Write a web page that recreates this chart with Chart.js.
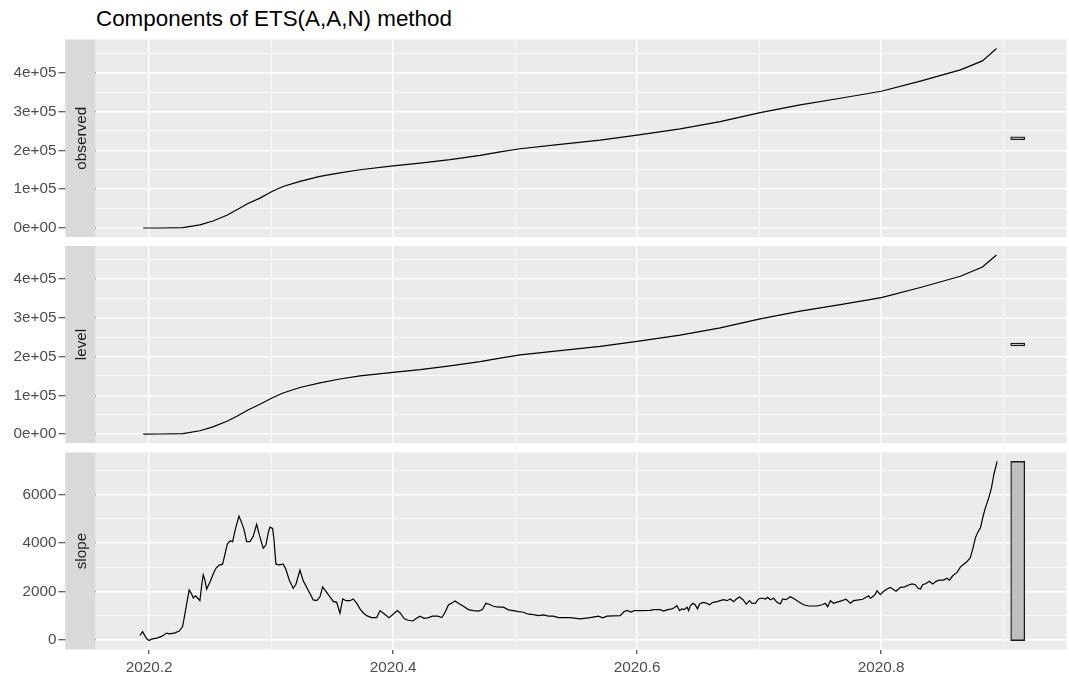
<!DOCTYPE html>
<html lang="en">
<head>
<meta charset="UTF-8">
<title>Components of ETS(A,A,N) method</title>
<script src="https://cdn.jsdelivr.net/npm/chart.js"></script>
<style>
  body { margin: 0; background: #fff; font-family: 'Liberation Sans', Arial, sans-serif; }
  #wrap { position: relative; width: 1069px; height: 679px; overflow: hidden; }
  #title { position: absolute; left: 96px; top: 8px; font-size: 22.4px; line-height: 1; color: #000; white-space: nowrap; }
  canvas { position: absolute; left: 0; }
</style>
</head>
<body>
<div id="wrap">
  <div id="title">Components of ETS(A,A,N) method</div>
  <canvas id="obsChart" width="1069" height="240" style="top:0px"></canvas>
  <canvas id="levelChart" width="1069" height="206" style="top:240px"></canvas>
  <canvas id="slopeChart" width="1069" height="233" style="top:446px"></canvas>
</div>
<script>
// series (time in decimal years)
const obsTime = [2020.1951, 2020.2088, 2020.2276, 2020.2416, 2020.2523, 2020.2637, 2020.2719, 2020.2810, 2020.2908,
  2020.3007, 2020.3097, 2020.3236, 2020.3400, 2020.3564, 2020.3728, 2020.3999, 2020.4221, 2020.4467, 2020.4713,
  2020.4877, 2020.5041, 2020.5369, 2020.5697, 2020.6000, 2020.6353, 2020.6681, 2020.7009, 2020.7337, 2020.7666,
  2020.8002, 2020.8322, 2020.8650, 2020.8831, 2020.8946];
const obsValue = [0, 100, 800, 8000, 18000, 33000, 47000, 63000, 77000,
  94000, 107000, 120000, 133000, 142000, 150000, 160000, 167000, 176000, 187000,
  196000, 204000, 215000, 226000, 239000, 255000, 274000, 297000, 317000, 334000,
  352000, 378000, 407000, 430000, 462000];

const levelTime = [2020.1951, 2020.2088, 2020.2276, 2020.2416, 2020.2523, 2020.2637, 2020.2719, 2020.2810, 2020.2908,
  2020.3007, 2020.3097, 2020.3236, 2020.3400, 2020.3564, 2020.3728, 2020.3999, 2020.4221, 2020.4467, 2020.4713,
  2020.4877, 2020.5041, 2020.5369, 2020.5697, 2020.6000, 2020.6353, 2020.6681, 2020.7009, 2020.7337, 2020.7666,
  2020.8002, 2020.8322, 2020.8650, 2020.8831, 2020.8946];
const levelValue = [0, 100, 900, 8500, 18500, 33000, 46000, 62000, 77000,
  93000, 106000, 120000, 132000, 142000, 150000, 159000, 166000, 176000, 187000,
  196000, 204000, 215000, 226000, 239000, 255000, 274000, 297000, 317000, 334000,
  352000, 378000, 407000, 431000, 462000];

const slopeTime = [2020.1924, 2020.1946, 2020.1979, 2020.2000, 2020.2020, 2020.2061, 2020.2102, 2020.2143, 2020.2170,
  2020.2211, 2020.2246, 2020.2274, 2020.2293, 2020.2312, 2020.2328, 2020.2348, 2020.2361, 2020.2381, 2020.2397,
  2020.2416, 2020.2430, 2020.2443, 2020.2457, 2020.2471, 2020.2498, 2020.2525, 2020.2547, 2020.2574, 2020.2602,
  2020.2621, 2020.2640, 2020.2662, 2020.2684, 2020.2703, 2020.2717, 2020.2736, 2020.2758, 2020.2777, 2020.2799,
  2020.2826, 2020.2853, 2020.2881, 2020.2902, 2020.2935, 2020.2957, 2020.2976, 2020.2990, 2020.3012, 2020.3023,
  2020.3039, 2020.3066, 2020.3099, 2020.3121, 2020.3148, 2020.3181, 2020.3203, 2020.3236, 2020.3263, 2020.3291,
  2020.3318, 2020.3345, 2020.3373, 2020.3400, 2020.3422, 2020.3455, 2020.3482, 2020.3509, 2020.3537, 2020.3564,
  2020.3587, 2020.3614, 2020.3646, 2020.3673, 2020.3701, 2020.3728, 2020.3756, 2020.3783, 2020.3824, 2020.3865,
  2020.3893, 2020.3928, 2020.3966, 2020.4002, 2020.4034, 2020.4057, 2020.4092, 2020.4125, 2020.4161, 2020.4185,
  2020.4221, 2020.4253, 2020.4284, 2020.4322, 2020.4366, 2020.4399, 2020.4426, 2020.4453, 2020.4481, 2020.4508,
  2020.4535, 2020.4576, 2020.4617, 2020.4658, 2020.4699, 2020.4732, 2020.4760, 2020.4787, 2020.4822, 2020.4863,
  2020.4904, 2020.4945, 2020.4986, 2020.5027, 2020.5068, 2020.5109, 2020.5150, 2020.5191, 2020.5232, 2020.5273,
  2020.5314, 2020.5355, 2020.5410, 2020.5451, 2020.5533, 2020.5615, 2020.5683, 2020.5719, 2020.5752, 2020.5861,
  2020.5894, 2020.5916, 2020.5949, 2020.5976, 2020.6107, 2020.6134, 2020.6189, 2020.6217, 2020.6244, 2020.6285,
  2020.6304, 2020.6326, 2020.6348, 2020.6367, 2020.6386, 2020.6409, 2020.6422, 2020.6436, 2020.6458, 2020.6477,
  2020.6495, 2020.6512, 2020.6540, 2020.6567, 2020.6594, 2020.6622, 2020.6655, 2020.6682, 2020.6709, 2020.6737,
  2020.6764, 2020.6791, 2020.6813, 2020.6840, 2020.6868, 2020.6895, 2020.6922, 2020.6942, 2020.6969, 2020.6996,
  2020.7024, 2020.7051, 2020.7070, 2020.7092, 2020.7119, 2020.7147, 2020.7174, 2020.7193, 2020.7221, 2020.7256,
  2020.7291, 2020.7324, 2020.7365, 2020.7406, 2020.7475, 2020.7516, 2020.7543, 2020.7562, 2020.7584, 2020.7611,
  2020.7639, 2020.7680, 2020.7713, 2020.7748, 2020.7775, 2020.7816, 2020.7849, 2020.7877, 2020.7898, 2020.7912,
  2020.7931, 2020.7953, 2020.7967, 2020.7994, 2020.8021, 2020.8049, 2020.8076, 2020.8095, 2020.8123, 2020.8158,
  2020.8194, 2020.8221, 2020.8254, 2020.8281, 2020.8303, 2020.8322, 2020.8341, 2020.8369, 2020.8396, 2020.8423,
  2020.8451, 2020.8478, 2020.8513, 2020.8541, 2020.8560, 2020.8587, 2020.8623, 2020.8651, 2020.8678, 2020.8705,
  2020.8732, 2020.8751, 2020.8774, 2020.8796, 2020.8815, 2020.8833, 2020.8855, 2020.8883, 2020.8905, 2020.8924,
  2020.8951];
const slopeValue = [180, 340, 40, -30, 30, 70, 140, 280, 250,
  290, 360, 550, 1070, 1620, 2060, 1890, 1730, 1820, 1730,
  1620, 2240, 2690, 2470, 2100, 2380, 2720, 2960, 3090, 3130,
  3540, 3950, 4090, 4060, 4500, 4780, 5120, 4850, 4570, 4060,
  4060, 4290, 4780, 4360, 3790, 3920, 4430, 4660, 4610, 4160,
  3130, 3100, 3130, 2920, 2470, 2130, 2300, 2880, 2440, 2170,
  1920, 1650, 1620, 1780, 2190, 1960, 1780, 1590, 1550, 1100,
  1690, 1620, 1620, 1690, 1520, 1280, 1110, 1000, 920, 920,
  1210, 1070, 910, 1070, 1210, 1110, 870, 810, 780, 870,
  980, 890, 910, 980, 980, 920, 1140, 1440, 1520, 1610,
  1510, 1390, 1250, 1210, 1190, 1250, 1510, 1470, 1390, 1350,
  1350, 1240, 1210, 1170, 1140, 1060, 1040, 1000, 1030, 980,
  980, 920, 920, 920, 870, 920, 980, 910, 980, 1000,
  1170, 1220, 1150, 1210, 1220, 1250, 1250, 1190, 1240, 1280,
  1330, 1410, 1210, 1280, 1250, 1350, 1210, 1410, 1510, 1440,
  1280, 1480, 1550, 1520, 1450, 1550, 1580, 1620, 1660, 1620,
  1690, 1580, 1690, 1770, 1660, 1480, 1620, 1510, 1510, 1690,
  1730, 1690, 1760, 1660, 1720, 1550, 1480, 1690, 1660, 1780,
  1690, 1580, 1450, 1400, 1400, 1450, 1510, 1370, 1620, 1510,
  1560, 1620, 1680, 1510, 1620, 1650, 1680, 1760, 1820, 1720,
  1780, 1890, 2030, 1870, 2010, 2100, 2170, 2100, 2010, 2170,
  2190, 2260, 2310, 2280, 2130, 2100, 2280, 2330, 2420, 2310,
  2420, 2470, 2470, 2550, 2470, 2650, 2790, 3020, 3130, 3240,
  3410, 3750, 4230, 4480, 4640, 5050, 5460, 5880, 6290, 6830,
  7380];

// axis ticks and labels
const xMajor = [2020.2, 2020.4, 2020.6, 2020.8];
const xMinor = [2020.3, 2020.5, 2020.7, 2020.9];
const xLabels = ['2020.2', '2020.4', '2020.6', '2020.8'];

const bigMajor = [0, 100000, 200000, 300000, 400000];
const bigMinor = [50000, 150000, 250000, 350000, 450000];
const bigLabels = ['0e+00', '1e+05', '2e+05', '3e+05', '4e+05'];

const slopeMajor = [0, 2000, 4000, 6000];
const slopeMinor = [1000, 3000, 5000, 7000];
const slopeLabels = ['0', '2000', '4000', '6000'];

const FONT = "'Liberation Sans', Arial, sans-serif";
const AXIS_FONT = { family: FONT, size: 15.3 };
const PANEL_LEFT = 95.5;
const PANEL_RIGHT = 1066.5;
const STRIP_LEFT = 65.3;
const X_MIN = 2020.156, X_MAX = 2020.952;
const BAR_X = 2020.912;

function pairs(t, v) {
  return t.map((x, i) => ({ x: x, y: v[i] }));
}

function findIn(list, v) {
  return list.findIndex(m => Math.abs(m - v) < 1e-6);
}

// the scale bars all share the length of the slope range
const slopeSpan = Math.max(...slopeValue) - Math.min(...slopeValue);

function rangeBar(values) {
  const mid = (Math.max(...values) + Math.min(...values)) / 2;
  return [{ x: BAR_X, y: [mid - slopeSpan / 2, mid + slopeSpan / 2] }];
}

function yLimits(values) {
  const bar = rangeBar(values)[0].y;
  const lo = Math.min(...values, bar[0]), hi = Math.max(...values, bar[1]);
  const pad = (hi - lo) * 0.05;
  return [lo - pad, hi + pad];
}

// no label overhang padding, so the panels keep their exact size
function noPad(s) {
  s.paddingTop = 0;
  s.paddingBottom = 0;
  s.paddingLeft = 0;
  s.paddingRight = 0;
}

// grey panel behind, facet strip on the left
const panelDeco = {
  id: 'panelDeco',
  beforeDraw(chart) {
    const a = chart.chartArea, c = chart.ctx;
    c.save();
    c.fillStyle = '#EBEBEB';
    c.fillRect(a.left, a.top, a.right - a.left, a.bottom - a.top);
    c.restore();
  },
  afterDraw(chart, args, opts) {
    const a = chart.chartArea, c = chart.ctx;
    c.save();
    c.fillStyle = '#D9D9D9';
    c.fillRect(STRIP_LEFT, a.top, a.left - STRIP_LEFT, a.bottom - a.top);
    c.translate((STRIP_LEFT + a.left) / 2 + 1, (a.top + a.bottom) / 2);
    c.rotate(-Math.PI / 2);
    c.fillStyle = '#1A1A1A';
    c.font = '15.3px ' + FONT;
    c.textAlign = 'center';
    c.textBaseline = 'middle';
    c.fillText(opts.label, 0, 0);
    c.restore();
  }
};

function makePanel(id, label, time, values, yMajor, yMinor, yLabels, padTop, showX) {
  const lim = yLimits(values);
  return new Chart(document.getElementById(id), {
    type: 'line',
    data: {
      datasets: [
        {
          type: 'line',
          data: pairs(time, values),
          borderColor: '#000000',
          borderWidth: 1.2,
          pointRadius: 0,
          tension: 0,
          fill: false
        },
        {
          type: 'bar',
          data: rangeBar(values),
          backgroundColor: '#BFBFBF',
          borderColor: '#1A1A1A',
          borderWidth: 1.3,
          borderSkipped: false,
          barThickness: 14
        }
      ]
    },
    options: {
      responsive: false,
      animation: false,
      layout: { padding: { left: 0, right: 1069 - PANEL_RIGHT, top: padTop, bottom: 0 } },
      plugins: {
        legend: { display: false },
        tooltip: { enabled: false },
        panelDeco: { label: label }
      },
      scales: {
        x: {
          type: 'linear',
          min: X_MIN,
          max: X_MAX,
          offset: false,
          afterBuildTicks: s => { s.ticks = xMajor.concat(xMinor).sort((a, b) => a - b).map(v => ({ value: v })); },
          afterFit: s => { s.height = showX ? 29.5 : 3; noPad(s); },
          border: { display: false },
          grid: {
            offset: false,
            color: '#FFFFFF',
            lineWidth: ctx => findIn(xMajor, ctx.tick.value) >= 0 ? 1.5 : 0.75,
            drawTicks: showX,
            tickLength: 4.5,
            tickWidth: 1.1,
            tickColor: ctx => findIn(xMajor, ctx.tick.value) >= 0 ? '#333333' : 'rgba(0,0,0,0)'
          },
          ticks: {
            display: showX,
            color: '#4D4D4D',
            font: AXIS_FONT,
            padding: 5,
            maxRotation: 0,
            autoSkip: false,
            callback: v => { const i = findIn(xMajor, v); return i >= 0 ? xLabels[i] : ''; }
          }
        },
        y: {
          type: 'linear',
          min: lim[0],
          max: lim[1],
          afterBuildTicks: s => {
            s.ticks = yMajor.concat(yMinor).filter(v => v >= lim[0] && v <= lim[1])
              .sort((a, b) => a - b).map(v => ({ value: v }));
          },
          afterFit: s => { s.width = PANEL_LEFT; noPad(s); },
          border: { display: false },
          grid: {
            color: '#FFFFFF',
            lineWidth: ctx => findIn(yMajor, ctx.tick.value) >= 0 ? 1.5 : 0.75,
            drawTicks: true,
            tickLength: 37,
            tickWidth: 1.1,
            tickColor: ctx => findIn(yMajor, ctx.tick.value) >= 0 ? '#333333' : 'rgba(0,0,0,0)'
          },
          ticks: {
            color: '#4D4D4D',
            font: AXIS_FONT,
            padding: 2,
            autoSkip: false,
            callback: v => { const i = findIn(yMajor, v); return i >= 0 ? yLabels[i] : ''; }
          }
        }
      }
    },
    plugins: [panelDeco]
  });
}

makePanel('obsChart', 'observed', obsTime, obsValue, bigMajor, bigMinor, bigLabels, 39.5, false);
makePanel('levelChart', 'level', levelTime, levelValue, bigMajor, bigMinor, bigLabels, 6, false);
makePanel('slopeChart', 'slope', slopeTime, slopeValue, slopeMajor, slopeMinor, slopeLabels, 6.5, true);
</script>
</body>
</html>
